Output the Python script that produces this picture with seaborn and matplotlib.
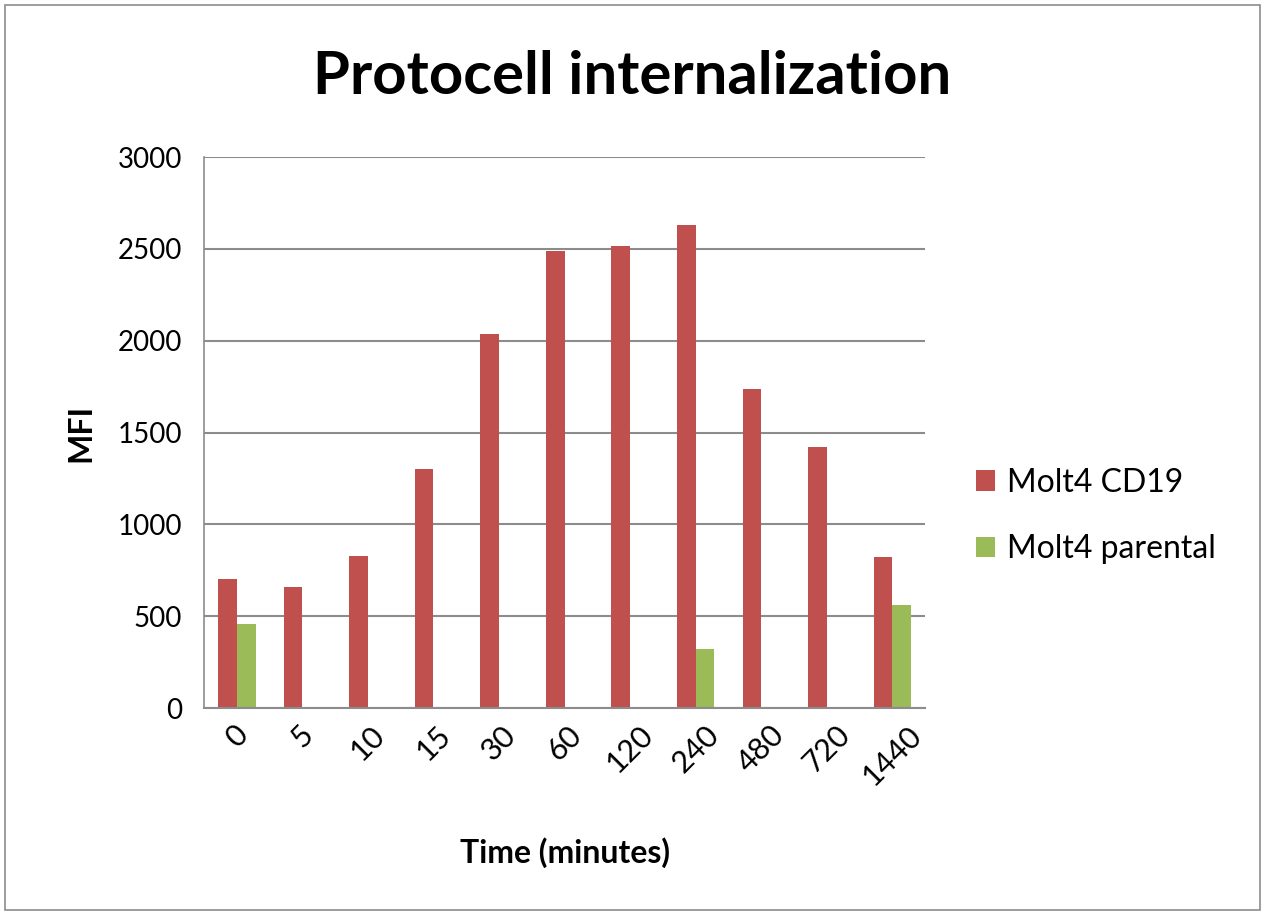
import pandas as pd
import numpy as np
import matplotlib.pyplot as plt
import seaborn as sns
from matplotlib.patches import Rectangle

# Time points (minutes) and mean fluorescence intensity per cell line
time_points = ['0', '5', '10', '15', '30', '60', '120', '240', '480', '720', '1440']
mfi_cd19 = [705, 658, 825, 1300, 2035, 2490, 2515, 2630, 1735, 1420, 820]
mfi_parental = [455, np.nan, np.nan, np.nan, np.nan, np.nan, np.nan, 322, np.nan, np.nan, 561]
series_names = ['Molt4 CD19', 'Molt4 parental']
series_colors = ['#C0504D', '#9BBB59']

# Long-form table for seaborn
df = pd.DataFrame({
    'time': time_points * 2,
    'mfi': mfi_cd19 + mfi_parental,
    'line': [series_names[0]] * len(time_points) + [series_names[1]] * len(time_points),
})

sns.set_style('white')
plt.rcParams['font.family'] = ['Lato', 'DejaVu Sans']
plt.rcParams['text.color'] = 'black'
plt.rcParams['axes.labelcolor'] = 'black'
plt.rcParams['xtick.color'] = 'black'
plt.rcParams['ytick.color'] = 'black'

fig = plt.figure(figsize=(12.65, 9.15), dpi=100)
ax = fig.add_axes([0.1613, 0.2262, 0.5700, 0.6022])

sns.barplot(data=df, x='time', y='mfi', hue='line', order=time_points,
            hue_order=series_names, palette=series_colors, width=0.57,
            gap=0, errorbar=None, saturation=1, edgecolor='none', ax=ax)

# Axes styling
grid_color = '#8C8C8C'
ax.set_ylim(0, 3000)
ax.set_yticks(range(0, 3001, 500))
ax.yaxis.grid(True, color=grid_color, linewidth=1.5)
ax.set_axisbelow(True)
for side in ['top', 'right']:
    ax.spines[side].set_visible(False)
ax.spines['left'].set_color(grid_color)
ax.spines['bottom'].set_color(grid_color)
ax.spines['left'].set_linewidth(1.2)
ax.spines['bottom'].set_linewidth(1.5)
ax.tick_params(axis='y', length=6, color=grid_color, width=1.2, labelsize=20,
               labelcolor='black', pad=10)
ax.tick_params(axis='x', length=0, labelsize=22, labelcolor='black', pad=9,
               labelrotation=45)

ax.set_xlabel('Time (minutes)', fontsize=23, fontweight='bold', labelpad=34)
ax.set_ylabel('MFI', fontsize=23, fontweight='bold', labelpad=16)

# Title
fig.text(0.5, 0.916, 'Protocell internalization', ha='center', va='center',
         fontsize=43, fontweight='bold')

# Legend on the right
handles, labels = ax.get_legend_handles_labels()
ax.legend(handles, labels, loc='center left', bbox_to_anchor=(0.749, 0.436),
          bbox_transform=fig.transFigure, frameon=False, fontsize=23,
          handlelength=0.6, handleheight=0.6, handletextpad=0.35, labelspacing=1.15)

# Outer chart border
fig.patches.append(Rectangle((0.004, 0.006), 0.992, 0.988, transform=fig.transFigure,
                             fill=False, edgecolor='#8C8C8C', linewidth=1.2))

fig.savefig('out.png', dpi=100)
